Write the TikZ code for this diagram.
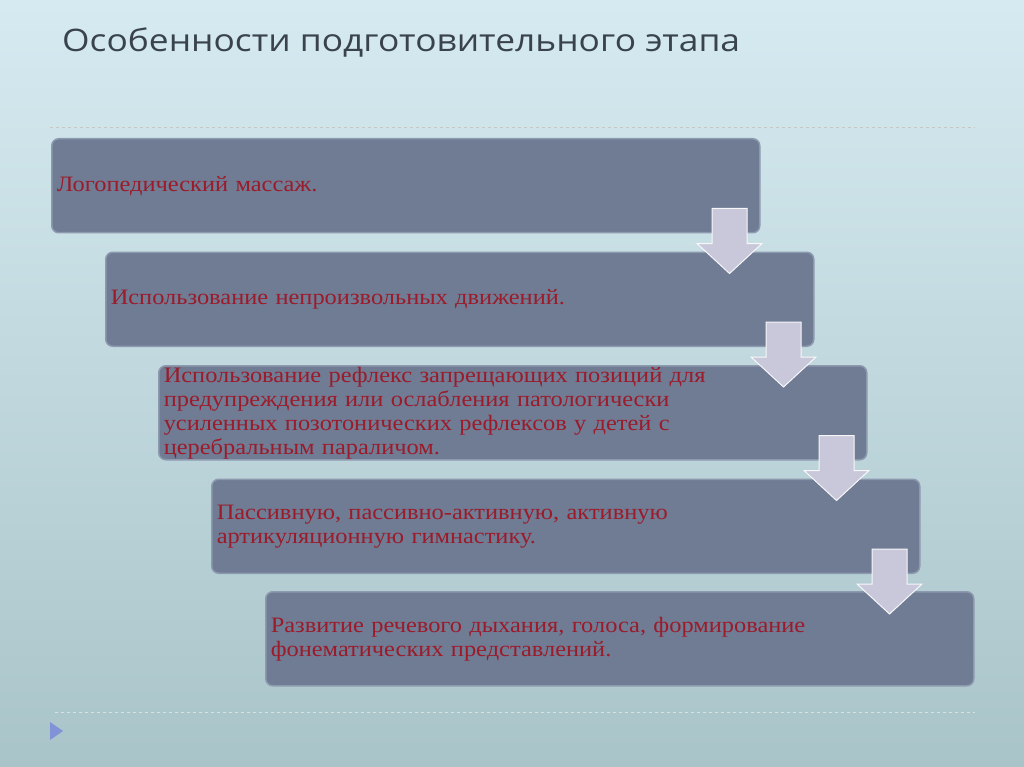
\documentclass[tikz,border=0pt]{standalone}
\usepackage{fontspec}
\setmainfont[FakeStretch=1.11]{Liberation Serif}
\newfontfamily\titlefont[FakeStretch=1.14]{Open Sans}
\definecolor{slidetop}{HTML}{D6EBF1}
\definecolor{slidebot}{HTML}{A9C4C9}
\definecolor{boxfill}{HTML}{6F7C94}
\definecolor{boxedge}{HTML}{8D99AE}
\definecolor{boxtext}{HTML}{9B1B2B}
\definecolor{arrowfill}{HTML}{C9C8DA}
\definecolor{titletext}{HTML}{3A434D}

\begin{document}
\begin{tikzpicture}[x=1pt,y=-1pt,
    stage/.style={rectangle,rounded corners=7pt,fill=boxfill,draw=boxedge,line width=1.5pt,
        minimum width=708pt,minimum height=94pt,text width=698pt,inner xsep=4pt,inner ysep=0pt,
        align=left,anchor=north west,text=boxtext,font=\fontsize{22}{24}\selectfont},
    downarrow/.style={fill=arrowfill,draw=white!85!arrowfill,line width=1pt,line join=miter}]

    % background and title
    \fill[top color=slidetop,bottom color=slidebot] (0,0) rectangle (1024,767);
    \useasboundingbox (0,0) rectangle (1024,767);
    \node[anchor=base west,inner sep=0pt,text=titletext,font=\titlefont\fontsize{31}{36}\selectfont] (title) at (62,52) {Особенности подготовительного этапа};
    \draw[dashed,gray!45,line width=0.8pt] (50,127) -- (975,127);
    \draw[dashed,gray!25,line width=0.8pt] (55,712) -- (975,712);
    \fill[blue!25!slidebot] (50,722) -- (63,731) -- (50,740) -- cycle;

    \node[stage] (1) at (51,138) {Логопедический массаж.};
    \node[stage] (2) at ([shift={(54,18)}]1.south west) {Использование непроизвольных движений.};
    \node[stage] (3) at ([shift={(53,18)}]2.south west) {Использование рефлекс запрещающих позиций для\\ предупреждения или ослабления патологически\\ усиленных позотонических рефлексов у детей с\\ церебральным параличом.};
    \node[stage] (4) at ([shift={(53,18)}]3.south west) {Пассивную, пассивно-активную, активную\\ артикуляционную гимнастику.};
    \node[stage] (5) at ([shift={(54,17)}]4.south west) {Развитие речевого дыхания, голоса, формирование\\ фонематических представлений.};

    % arrows between stages
    \foreach \i in {1,...,4}
        \draw[downarrow] ([shift={(-48.5,-25)}]\i.south east) -- ++(35,0) -- ++(0,35) -- ++(15,0)
            -- ++(-32.5,30) -- ++(-32.5,-30) -- ++(15,0) -- cycle;

\end{tikzpicture}
\end{document}
